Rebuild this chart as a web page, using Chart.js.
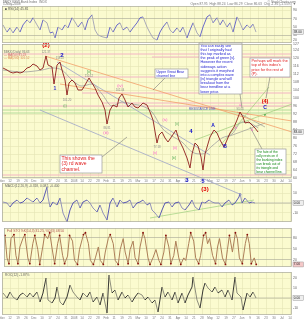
<!DOCTYPE html>
<html>
<head>
<meta charset="utf-8">
<script src="https://cdn.jsdelivr.net/npm/chart.js@4.4.0/dist/chart.umd.min.js"></script>
<style>
  html, body { margin: 0; padding: 0; background: #fff; }
  #wrap { position: relative; width: 304px; height: 320px; overflow: hidden; }
  canvas { position: absolute; left: 0; }
</style>
</head>
<body>
<div id="wrap">
  <canvas id="rsiChart" width="304" height="43" style="top:0px;z-index:1"></canvas>
  <canvas id="macdChart" width="304" height="39" style="top:183px;z-index:1"></canvas>
  <canvas id="stoChart" width="304" height="47" style="top:224px;z-index:1"></canvas>
  <canvas id="rocChart" width="304" height="48" style="top:272px;z-index:1"></canvas>
  <canvas id="priceChart" width="304" height="162" style="top:38px;z-index:5"></canvas>
</div>
<script>
const FONT = '"Liberation Sans", Arial, sans-serif';

// weekly date ticks, one every 8 days on the x axis
const dateLabels = ['Nov', '12', '19', '26', 'Dec', '10', '17', '24', '31', '2008', '14', '22', '28', 'Feb', '11', '19', '25', 'Mar', '10', '17', '24', '31', 'Apr', '14', '21', '28', 'May', '12', '19', '27', 'Jun', '9', '16', '23', '30', 'Jul', '14'];

// price (daily close)
const priceDays = [1, 5, 8, 11, 15, 18, 21, 25, 28, 31, 35, 38, 41, 44, 46, 50, 52, 55, 58, 60, 63, 65, 67, 70, 73, 76, 80, 83, 87, 90, 93, 96, 100, 103, 105, 108, 111, 115, 117, 120, 123, 126, 130, 133, 136, 141, 145, 148, 151, 155, 157, 160, 163, 166, 170, 174, 177, 181, 185, 188, 190, 193, 196, 199, 201, 203, 208, 212, 215, 218, 222, 225, 228, 232, 235, 238, 241, 243, 247, 250, 253, 256];
const priceValues = [115, 114, 113, 112.5, 113, 112.5, 113, 115, 115.5, 117, 116, 114, 115, 121, 116.5, 115.5, 107, 116.5, 118, 114, 109, 101.5, 107.5, 109, 107.5, 104, 104, 106.5, 110, 107.5, 105, 101.5, 98, 94, 87, 94, 96.5, 95.5, 100, 102, 99, 95.5, 97.5, 95.5, 95, 97.5, 96.5, 93, 89, 77.5, 81.5, 83, 80, 78, 81, 84, 79, 75, 70, 65, 72, 77.5, 76, 70.5, 64, 72, 80.5, 84, 82.5, 79, 75.5, 79, 82.5, 85.5, 89, 93, 90.5, 87.5, 88, 86.5, 85, 83];
const maDays = [1, 20, 40, 50, 60, 70, 80, 90, 100, 110, 120, 130, 140, 150, 160, 170, 180, 190, 200, 210, 220, 230, 240, 250, 256];
const maValues = [114, 113, 114, 115, 114, 109, 106, 107, 102, 96, 98, 97, 96, 93, 85, 81, 78, 73, 72, 76, 80, 82, 88, 87, 85];

// horizontal price levels
const pinkLevels = [122, 120.5, 110.5, 102.5, 97.5, 96, 61.5];
const pinkFrom = [0, 150, 0, 80, 100, 0, 0];
const greenLevels = [94, 92.5];

// trend lines [day1, price1, day2, price2]
const orangeLines = [[43, 121, 290, 83], [58, 107, 290, 88.5]];
const channelLines = [[55, 118, 208, 71.5], [38, 94, 240, 51.5]];
const triangleLines = [[235, 93, 263, 85.5], [225, 80.5, 263, 87.5]];
const greenLines = [[193, 79, 290, 97], [217, 75.5, 267, 105.5]];

// RSI(14)
const rsiDays = [1, 5, 8, 11, 15, 18, 21, 25, 28, 31, 35, 38, 41, 45, 48, 51, 53, 56, 60, 63, 66, 70, 73, 76, 80, 83, 86, 90, 93, 96, 100, 105, 108, 111, 115, 118, 121, 125, 128, 131, 135, 138, 141, 145, 148, 151, 155, 158, 161, 165, 168, 171, 175, 178, 181, 185, 188, 191, 195, 198, 201, 205, 208, 211, 215, 218, 221, 225, 228, 231, 235, 238, 241, 245, 248, 251, 254];
const rsiValues = [55, 38, 48, 36, 50, 38, 55, 67, 60, 72, 55, 43, 67, 60, 36, 38, 24, 50, 43, 55, 48, 72, 62, 50, 62, 43, 67, 79, 43, 31, 27, 24, 50, 38, 55, 60, 43, 50, 38, 48, 60, 72, 74, 50, 36, 24, 19, 38, 50, 62, 43, 36, 48, 38, 50, 24, 43, 60, 36, 27, 50, 74, 79, 60, 72, 55, 67, 50, 60, 38, 74, 60, 43, 55, 48, 57, 38];

// MACD
const macdDays = [1, 5, 8, 11, 15, 18, 21, 25, 28, 31, 35, 38, 41, 45, 46, 48, 51, 55, 58, 61, 65, 68, 71, 75, 78, 81, 85, 88, 91, 95, 98, 101, 105, 108, 111, 115, 118, 121, 125, 128, 131, 135, 138, 141, 145, 148, 150, 153, 157, 160, 163, 167, 170, 173, 177, 180, 183, 187, 190, 193, 197, 200, 203, 207, 210, 213, 217, 220, 223, 227, 230, 233, 237, 238, 240, 243, 247, 250, 253];
const macdValues = [1, 0, -4, 0, 3, 0, 1, 5, 3, 1, 5, 0, 3, 16, 6, -4, 1, -2, 5, -10, -19, -7, 0, 3, -5, 1, 3, 0, -5, -9, -2, -10, -17, 0, 5, -4, 3, 0, 1, 3, -5, 0, 1, 3, -2, 0, -7, -10, -15, -7, 0, 1, -4, 0, 1, -5, -7, -2, 3, -4, -7, 1, 0, 3, 1, 0, 0, -4, 0, 3, -2, 0, 6, 10, 0, 5, 0, 1, 0];
const macdTrend = [148, -15, 252, 3];

// Full stochastics %K
const stoDays = [1, 3, 5, 7, 10, 12, 14, 16, 19, 21, 24, 26, 29, 31, 34, 36, 39, 41, 44, 46, 49, 51, 54, 56, 59, 61, 64, 66, 69, 71, 74, 76, 80, 82, 85, 87, 90, 92, 95, 97, 100, 102, 105, 107, 110, 112, 115, 117, 120, 122, 125, 127, 130, 132, 135, 137, 140, 142, 145, 147, 150, 153, 156, 158, 161, 163, 166, 168, 171, 173, 176, 178, 181, 183, 186, 188, 191, 193, 196, 198, 201, 203, 205, 207, 210, 213, 215, 217, 220, 223, 225, 227, 230, 233, 235, 237, 240, 243, 245, 247, 249, 252, 254];
const stoValues = [87, 25, 9, 78, 89, 32, 9, 55, 78, 89, 25, 9, 64, 87, 48, 7, 55, 89, 78, 94, 41, 9, 64, 87, 32, 9, 30, 87, 71, 18, 7, 48, 89, 94, 64, 18, 7, 25, 55, 18, 7, 41, 78, 89, 64, 18, 7, 48, 78, 41, 9, 48, 71, 25, 9, 55, 94, 78, 25, 7, 25, 48, 18, 7, 41, 87, 55, 9, 32, 71, 25, 7, 25, 18, 64, 94, 71, 25, 9, 32, 87, 94, 64, 78, 32, 9, 55, 78, 25, 7, 48, 87, 41, 94, 78, 25, 9, 64, 89, 64, 9, 25, 7];

// ROC(12)
const rocDays = [1, 5, 8, 11, 15, 18, 21, 25, 28, 31, 35, 38, 41, 44, 46, 50, 53, 55, 58, 61, 65, 68, 71, 75, 78, 81, 85, 88, 91, 95, 98, 101, 105, 107, 110, 113, 116, 120, 123, 126, 130, 133, 136, 140, 143, 146, 150, 153, 156, 160, 163, 166, 170, 173, 176, 180, 183, 186, 190, 191, 195, 198, 201, 203, 206, 210, 213, 216, 220, 223, 226, 230, 233, 235, 239, 241, 245, 248, 251, 254];
const rocValues = [5, 0, 6, 1, -2, 3, 5, 1, 5, 1, 6, -4, 5, 20, -2, -5, 0, 11, -4, -7, 1, 13, 6, 1, -2, 5, 1, 6, -4, 1, -7, 5, -15, 23, 5, 8, -2, 6, 0, 3, -4, 1, 5, 3, -2, 1, -5, -2, -14, 11, 1, 6, -2, 6, -5, 5, -5, 3, 11, 21, -2, -10, 8, 15, 10, 6, 11, 5, 8, 1, 8, -2, 21, 5, 1, -12, 5, 1, 6, 0];

// wave counts and text notes, placed in day / price units
const waveLabels = [
    ['(2)', 44, 126.5, '#e00000', 6, 'bold'],
    ['2', 60, 121.5, '#1010cc', 6, 'bold'],
    ['1', 53, 104.5, '#3333cc', 5, 'bold'],
    ['(i)', 63, 96, '#55aa55', 4, ''],
    ['[ii]', 87, 113, '#55aa55', 4, ''],
    ['(iii)', 104, 82.5, '#ff55cc', 4, ''],
    ['(iv)', 118, 106, '#ff55cc', 4, ''],
    ['(v)', 153, 72.5, '#ff55cc', 3.5, ''],
    ['(iv)', 163, 89, '#ff55cc', 3.5, ''],
    ['[ii]', 175, 87, '#55aa55', 3.5, ''],
    ['(ii)', 173, 75, '#ff55cc', 3.5, ''],
    ['[iii]', 172, 70, '#55aa55', 3.5, ''],
    ['4', 189, 83.5, '#1010cc', 6, 'bold'],
    ['A', 211, 86, '#1010cc', 5, 'bold'],
    ['B', 223, 75.5, '#1010cc', 5, 'bold'],
    ['a', 238, 96.5, '#ff55cc', 3, ''],
    ['b', 234, 85, '#ff55cc', 3, ''],
    ['c', 246, 92, '#ff55cc', 3, ''],
    ['d', 250, 84, '#ff55cc', 3, ''],
    ['(4)', 263, 98.5, '#e00000', 5.5, 'bold'],
    ['C', 263, 95, '#1010cc', 5, 'bold'],
    ['e', 263, 91.5, '#339933', 4, 'bold'],
    ['3', 185, 59, '#1010cc', 6, 'bold'],
    ['5', 201, 58.5, '#1010cc', 5.5, 'bold'],
    ['(3)', 203, 54.5, '#e00000', 6, 'bold']
];
const priceTags = [['121.37', 44, 123], ['118.22', 58, 120], ['101.20', 65, 99], ['110.12', 87, 110.8], ['86.81', 105, 85], ['102.04', 118, 103.8], ['77.18', 155, 75.5], ['93.04', 238, 94.5]];
const noteBoxes = [
    {x1: 197, y1: 127.5, x2: 240, y2: 102, color: '#1a1acc', size: 3.7, lh: 4.15,
        lines: ['You can easily see', 'that I originally had', 'this top marked as', 'the peak of green [v].', 'However the recent', 'sideways action', 'suggests it morphed', 'into a complex wave', '[iv] triangle and will', 'breakout from the', 'bear trendline at a', 'lower price.']},
    {x1: 248, y1: 120, x2: 288, y2: 110.5, color: '#e02020', size: 3.8, lh: 4.4,
        lines: ['Perhaps will mark the', 'top of this index\'s', 'price for the rest of', '(P).']},
    {x1: 153, y1: 114.5, x2: 186, y2: 110, color: '#1a1acc', size: 3.5, lh: 3.9,
        lines: ['Upper Great Bear', 'channel line']},
    {x1: 58, y1: 71.5, x2: 100, y2: 62.5, color: '#e02020', size: 5, lh: 5.6,
        lines: ['This shows the', '(3) rd wave', 'channel.']},
    {x1: 253, y1: 74.5, x2: 284, y2: 62, color: '#118811', size: 3.3, lh: 4.1,
        lines: ['The fate of the', 'rally rests on if', 'the banking index', 'can break out of', 'its triangle and', 'bear channel line.']}
];
const pointerLines = [[238, 102, 240, 95], [268, 110.5, 264, 100], [163, 110, 151, 104], [100, 70.5, 125, 80.5], [260, 74.5, 248, 85.5]];

function pts(days, vals) {
    return days.map((d, i) => ({x: d, y: vals[i]}));
}

function segLine(seg, color, width) {
    return {
        data: [{x: seg[0], y: seg[1]}, {x: seg[2], y: seg[3]}],
        borderColor: color, borderWidth: width, pointRadius: 0
    };
}

function xAxis(showLabels) {
    return {
        type: 'linear', min: 0, max: 290,
        grid: {color: '#e4e4b4', lineWidth: 0.6, drawTicks: false},
        border: {display: false},
        ticks: {
            display: showLabels, stepSize: 8, autoSkip: false, includeBounds: false, maxRotation: 0,
            padding: 1, color: '#777', font: {size: 3, family: FONT},
            callback: v => dateLabels[v / 8] || ''
        },
        afterFit: s => { s.height = showLabels ? 5 : 0; s.paddingLeft = 0; s.paddingRight = 0; }
    };
}

function yAxis(min, max, step, tickList, gridColor) {
    return {
        position: 'right', min: min, max: max,
        grid: {color: gridColor || '#e4e4b4', lineWidth: 0.6, drawTicks: false},
        border: {display: false},
        ticks: {stepSize: step, autoSkip: false, padding: 1, color: '#666', font: {size: 3.5, family: FONT}},
        afterBuildTicks: tickList ? (s => { s.ticks = tickList.map(v => ({value: v})); }) : undefined,
        afterFit: s => { s.width = 12; s.paddingTop = 0; s.paddingBottom = 0; }
    };
}

// yellow panel, frame, title and last value box
function panelPlugin(title, titleColor, lastValue, boxColor, extra) {
    return {
        id: 'panel',
        beforeDraw(chart) {
            const a = chart.chartArea, ctx = chart.ctx;
            ctx.save();
            ctx.fillStyle = '#fbfbcf';
            ctx.fillRect(a.left, a.top, a.right - a.left, a.bottom - a.top);
            ctx.restore();
        },
        afterDraw(chart) {
            const a = chart.chartArea, ctx = chart.ctx;
            ctx.save();
            ctx.strokeStyle = '#a8a8a0';
            ctx.lineWidth = 0.7;
            ctx.strokeRect(a.left + 0.5, a.top + 0.5, a.right - a.left - 1, a.bottom - a.top - 1);
            ctx.font = '3.3px ' + FONT;
            ctx.textBaseline = 'middle';
            ctx.fillStyle = titleColor;
            ctx.fillText(title, a.left + 3, a.top + 2.6);
            const yy = chart.scales.y.getPixelForValue(lastValue);
            ctx.fillStyle = boxColor;
            ctx.fillRect(a.right + 1, yy - 2.5, 10.5, 5);
            ctx.strokeStyle = '#888';
            ctx.lineWidth = 0.4;
            ctx.strokeRect(a.right + 1, yy - 2.5, 10.5, 5);
            ctx.fillStyle = '#222';
            ctx.font = '3.2px ' + FONT;
            ctx.fillText(lastValue.toFixed(2), a.right + 1.8, yy);
            if (extra) extra(chart, ctx);
            ctx.restore();
        }
    };
}

function baseOptions(xA, yA, pad) {
    return {
        responsive: false, animation: false, devicePixelRatio: 1,
        layout: {padding: pad},
        plugins: {legend: {display: false}, tooltip: {enabled: false}, title: {display: false}},
        scales: {x: xA, y: yA}
    };
}

// ---- RSI panel (with page header above it)
new Chart(document.getElementById('rsiChart'), {
    type: 'line',
    data: {
        datasets: [{
            data: pts(rsiDays, rsiValues), borderWidth: 0.9, pointRadius: 0,
            borderColor: '#9a9ab0',
            segment: {borderColor: c => c.p1.parsed.y > c.p0.parsed.y ? '#5a5ac8' : '#a0a0b4'}
        }]
    },
    options: Object.assign(baseOptions(xAxis(false), yAxis(12, 100, 10, [20, 30, 50, 70, 90],
        c => (c.tick.value === 30 || c.tick.value === 70) ? '#a6a696' : '#e4e4b4'), {top: 6, left: 2, right: 0, bottom: 0})),
    plugins: [panelPlugin('\u25A0 RSI(14) 45.81', '#555', rsiValues[rsiValues.length - 1], '#eeeeee', (chart, ctx) => {
        ctx.fillStyle = '#777';
        ctx.font = '3.3px ' + FONT;
        ctx.fillText('$BKX KBW Bank Index  INDX', 3, 1.6);
        ctx.fillText('1-May-2008', 3, 4.3);
        ctx.textAlign = 'right';
        ctx.fillText('\u00A9 StockCharts.com', 296, 1.6);
        ctx.fillText('Open 87.95  High 88.24  Low 86.29  Close 86.63  Chg -1.36 (-1.55%) \u25BC', 296, 4.3);
    })]
});

// ---- price panel
const priceDatasets = [
    {data: pts(priceDays, priceValues), borderColor: '#8e1c1c', borderWidth: 0.9, pointRadius: 0},
    {data: pts(maDays, maValues), borderColor: '#a0a0a0', borderWidth: 0.8, pointRadius: 0, cubicInterpolationMode: 'monotone'}
];
orangeLines.forEach(s => priceDatasets.push(segLine(s, '#f2a06a', 0.8)));
channelLines.forEach((s, i) => {
    const d = segLine(s, '#9ea4c8', 0.8);
    if (i === 1) d.clip = false;
    priceDatasets.push(d);
});
triangleLines.forEach(s => priceDatasets.push(segLine(s, '#8c8c8c', 0.6)));
greenLines.forEach(s => priceDatasets.push(segLine(s, '#9ccc78', 0.7)));
pinkLevels.forEach((v, i) => priceDatasets.push(segLine([pinkFrom[i], v, 290, v], '#f3b4c4', 1)));
greenLevels.forEach(v => priceDatasets.push(segLine([0, v, 290, v], '#b4dc9a', 1)));

const priceNotes = {
    id: 'priceNotes',
    afterDatasetsDraw(chart) {
        const ctx = chart.ctx, x = chart.scales.x, y = chart.scales.y, a = chart.chartArea;
        ctx.save();
        // legend lines
        ctx.font = '3px ' + FONT;
        ctx.textBaseline = 'middle';
        ctx.fillStyle = '#777';
        ctx.fillText('$BKX (Daily) 86.63', a.left + 2, a.top + 8);
        ctx.fillStyle = '#cc6666';
        ctx.fillText('\u2014 MA(50) 91.23', a.left + 2, a.top + 11);
        ctx.fillStyle = '#e0905a';
        ctx.fillText('\u2014 MA(200) 101.52', a.left + 2, a.top + 14);
        ctx.fillStyle = '#5555cc';
        ctx.fillText('RESISTANCE LINE', x.getPixelForValue(187), y.getPixelForValue(94.6));

        ctx.strokeStyle = '#777';
        ctx.lineWidth = 0.6;
        pointerLines.forEach(p => {
            ctx.beginPath();
            ctx.moveTo(x.getPixelForValue(p[0]), y.getPixelForValue(p[1]));
            ctx.lineTo(x.getPixelForValue(p[2]), y.getPixelForValue(p[3]));
            ctx.stroke();
        });

        noteBoxes.forEach(b => {
            const l = x.getPixelForValue(b.x1), t = y.getPixelForValue(b.y1);
            const r = x.getPixelForValue(b.x2), bt = y.getPixelForValue(b.y2);
            ctx.fillStyle = '#ffffff';
            ctx.fillRect(l, t, r - l, bt - t);
            ctx.strokeStyle = '#9a9a9a';
            ctx.lineWidth = 0.7;
            ctx.strokeRect(l, t, r - l, bt - t);
            ctx.fillStyle = b.color;
            ctx.font = b.size + 'px ' + FONT;
            ctx.textBaseline = 'top';
            b.lines.forEach((s, i) => ctx.fillText(s, l + 1.5, t + 1 + i * b.lh));
        });

        ctx.textAlign = 'center';
        ctx.textBaseline = 'middle';
        ctx.fillStyle = '#888';
        ctx.font = '2.8px ' + FONT;
        priceTags.forEach(p => ctx.fillText(p[0], x.getPixelForValue(p[1]), y.getPixelForValue(p[2])));
        waveLabels.forEach(w => {
            ctx.fillStyle = w[3];
            ctx.font = (w[5] ? w[5] + ' ' : '') + w[4] + 'px ' + FONT;
            ctx.fillText(w[0], x.getPixelForValue(w[1]), y.getPixelForValue(w[2]));
        });
        ctx.restore();
    }
};

new Chart(document.getElementById('priceChart'), {
    type: 'line',
    data: {datasets: priceDatasets},
    options: baseOptions(xAxis(true), yAxis(60, 127, 4), {top: 6, left: 2, right: 0, bottom: 17}),
    plugins: [panelPlugin('', '#555', priceValues[priceValues.length - 1], '#eeeeee'), priceNotes]
});

// ---- MACD panel
new Chart(document.getElementById('macdChart'), {
    type: 'line',
    data: {
        datasets: [
            {data: pts(macdDays, macdValues), borderWidth: 0.9, pointRadius: 0, borderColor: '#5050a8',
                segment: {borderColor: c => c.p1.parsed.y > c.p0.parsed.y ? '#4848b0' : '#8888b8'}},
            segLine(macdTrend, '#a8d488', 0.8),
            segLine([0, 0, 290, 0], '#a0a0a0', 0.6)
        ]
    },
    options: baseOptions(xAxis(false), yAxis(-19, 20, 10, [-10, 0, 10]), {top: 0, left: 2, right: 0, bottom: 0}),
    plugins: [panelPlugin('MACD(12,26,9) -0.318, 0.082, -0.400', '#666', macdValues[macdValues.length - 1], '#eeeeee')]
});

// ---- stochastics panel
new Chart(document.getElementById('stoChart'), {
    type: 'line',
    data: {
        datasets: [{
            data: pts(stoDays, stoValues), borderWidth: 1, borderColor: '#ad7f58',
            pointRadius: c => (c.raw && (c.raw.y >= 87 || c.raw.y <= 9)) ? 0.9 : 0,
            pointBackgroundColor: '#8a0c0c', pointBorderWidth: 0
        }]
    },
    options: baseOptions(xAxis(false), yAxis(0, 107, 10, [20, 50, 80],
        c => c.tick.value === 50 ? '#c8c8a0' : '#a6a696'), {top: 0, left: 2, right: 0, bottom: 0}),
    plugins: [panelPlugin('Full STO %K(14,3) 31.25, %D(3) 48.50', '#b05050', stoValues[stoValues.length - 1], '#f4c8c8')]
});

// ---- ROC panel
new Chart(document.getElementById('rocChart'), {
    type: 'line',
    data: {
        datasets: [
            {data: pts(rocDays, rocValues), borderWidth: 0.9, pointRadius: 0, borderColor: '#333',
                segment: {borderColor: c => c.p1.parsed.y > c.p0.parsed.y ? '#222' : '#808070'}},
            segLine([0, 0, 290, 0], '#a6a696', 0.6)
        ]
    },
    options: baseOptions(xAxis(true), yAxis(-17, 26, 10, [-10, 0, 10, 20]), {top: 0, left: 2, right: 0, bottom: 0}),
    plugins: [panelPlugin('ROC(12) -1.87%', '#666', rocValues[rocValues.length - 1], '#eeeeee')]
});
</script>
</body>
</html>
